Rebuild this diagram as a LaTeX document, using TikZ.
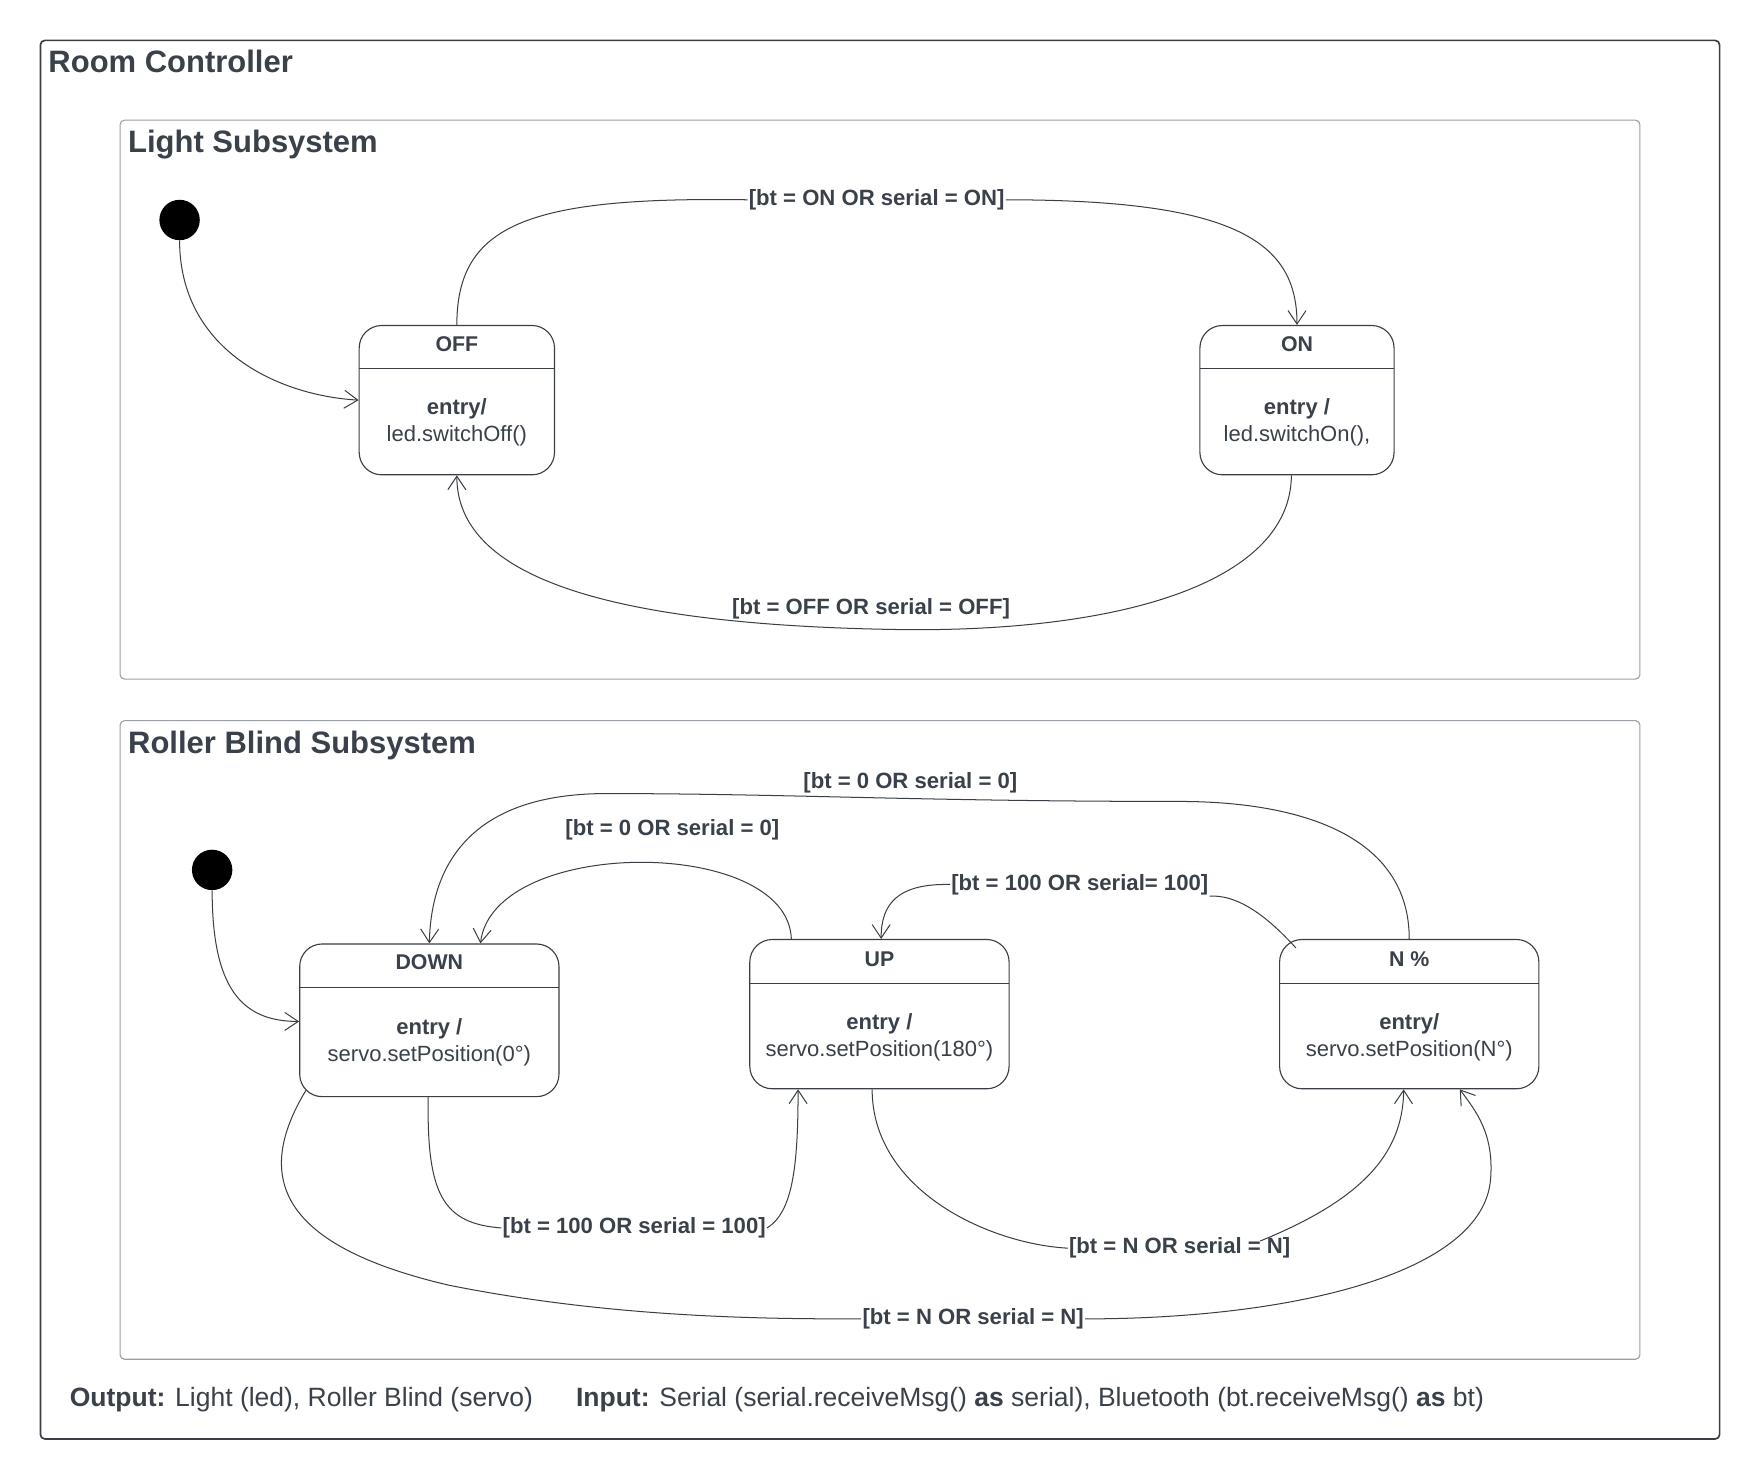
\documentclass[tikz,border=0pt]{standalone}
\usepackage{fontspec}
\setmainfont{Liberation Sans}
\usetikzlibrary{arrows.meta,calc}
\definecolor{txt}{HTML}{3A414A}
\definecolor{ln}{HTML}{3A3F45}
\definecolor{frm}{HTML}{9AA0A6}
\begin{document}
\begin{tikzpicture}[x=1pt,y=-1pt,
  statebox/.style={draw=ln, line width=1pt, rounded corners=20pt, fill=white, inner sep=0pt},
  conn/.style={draw=ln, line width=0.9pt, -{Straight Barb[length=12pt,width=16pt]}},
  seg/.style={draw=ln, line width=0.9pt},
  lbl/.style={font=\fontsize{19.7}{23}\selectfont\bfseries, text=txt, inner sep=1pt},
  stname/.style={font=\fontsize{19}{23}\selectfont\bfseries, text=txt, inner sep=0pt},
  body/.style={font=\fontsize{19.6}{24}\selectfont, text=txt, align=center, inner sep=0pt},
  ttl/.style={font=\fontsize{27.6}{32}\selectfont\bfseries, text=txt, anchor=base west, inner sep=0pt},
  foot/.style={font=\fontsize{23.6}{27}\selectfont, text=txt, anchor=base west, inner sep=0pt},
  initial/.style={circle, fill=black, minimum size=36pt, inner sep=0pt}]
\useasboundingbox (0,0) rectangle (1568,1318.55);
\fill[white] (0,0) rectangle (1568,1318.55);
% frames
\draw[ln, line width=1.5pt, rounded corners=4pt] (36,36) rectangle (1532,1282);
\draw[frm, line width=1pt, rounded corners=4pt] (107,107) rectangle (1461,605);
\draw[frm, line width=1pt, rounded corners=4pt] (107,642) rectangle (1461,1211);
\node[ttl] (tRoom) at (43,65) {Room Controller};
\node[ttl] (tLight) at (114,136) {Light Subsystem};
\node[ttl] (tRoller) at (114,671) {Roller Blind Subsystem};
% light states
\node[statebox, minimum width=174pt, minimum height=133pt] (off) at (407,356.5) {};
\draw[ln, line width=1pt] (320,328) -- (494,328);
\node[stname] (offT) at (407,306.5) {OFF};
\node[body] (offB) at (407,376) {\textbf{entry/}\\led.switchOff()};
\node[statebox, minimum width=173pt, minimum height=133pt] (on) at (1155.5,356.5) {};
\draw[ln, line width=1pt] (1069,328) -- (1242,328);
\node[stname] (onT) at (1155.5,306.5) {ON};
\node[body] (onB) at (1155.5,376) {\textbf{entry /}\\led.switchOn(),};
\node[initial] (i1) at (160,196) {};
% roller states
\node[statebox, minimum width=231pt, minimum height=136pt] (down) at (382.5,909) {};
\draw[ln, line width=1pt] (267,880) -- (498,880);
\node[stname] (downT) at (382.5,857.5) {DOWN};
\node[body] (downB) at (382.5,929) {\textbf{entry /}\\servo.setPosition(0°)};
\node[statebox, minimum width=231pt, minimum height=133pt] (up) at (783.5,903.5) {};
\draw[ln, line width=1pt] (668,876) -- (899,876);
\node[stname] (upT) at (783.5,854.5) {UP};
\node[body] (upB) at (783.5,924) {\textbf{entry /}\\servo.setPosition(180°)};
\node[statebox, minimum width=231pt, minimum height=133pt] (nn) at (1255.5,903.5) {};
\draw[ln, line width=1pt] (1140,876) -- (1371,876);
\node[stname] (nnT) at (1255.5,854.5) {N \%};
\node[body] (nnB) at (1255.5,924) {\textbf{entry/}\\servo.setPosition(N°)};
\node[initial] (i2) at (189,775) {};
% labels
\node[lbl] (lon) at (781,178) {[bt = ON OR serial = ON]};
\node[lbl] (loff) at (776,542) {[bt = OFF OR serial = OFF]};
\node[lbl] (l0a) at (599,739) {[bt = 0 OR serial = 0]};
\node[lbl] (l0b) at (811,697) {[bt = 0 OR serial = 0]};
\node[lbl] (l100a) at (962,788) {[bt = 100 OR serial= 100]};
\node[lbl] (l100b) at (565,1094) {[bt = 100 OR serial = 100]};
\node[lbl] (lNa) at (1051,1112) {[bt = N OR serial = N]};
\node[lbl] (lNb) at (867,1175) {[bt = N OR serial = N]};
% light connectors
\draw[conn] (i1.south) .. controls (160,310) and (245,352) .. (off.west);
\draw[seg] (off.north) .. controls (407,200) and (470,175) .. (lon.west);
\draw[conn] (lon.east) .. controls (1100,178) and (1155.5,215) .. (on.north);
\draw[conn] ($(on.south)+(-5,0)$) .. controls (1150,515) and (1010,562) .. (810,561) .. controls (560,558) and (407,520) .. (off.south);
% roller connectors
\draw[conn] (i2.south) .. controls (189,880) and (215,910) .. ($(down.west)+(0,1)$);
\draw[conn] ($(up.north)+(-78.5,0)$) .. controls (702,745) and (440,745) .. ($(down.north)+(45.5,0)$);
\draw[conn] (nn.north) .. controls (1255.5,745) and (1160,714) .. (1050,714) .. controls (820,714) and (700,707) .. (540,707) .. controls (420,707) and (384,770) .. (down.north);
\draw[seg] ($(nn.north west)+(15,8)$) .. controls (1125,812) and (1100,797) .. (l100a.south east);
\draw[conn] (l100a.west) .. controls (800,787) and (785,805) .. ($(up.north)+(1.5,0)$);
\draw[seg] ($(down.south)+(-1,0)$) .. controls (380,1065) and (395,1090) .. (l100b.west);
\draw[conn] (l100b.east) .. controls (706,1080) and (711,1040) .. ($(up.south)+(-72.5,0)$);
\draw[seg] ($(up.south)+(-6.5,0)$) .. controls (777,1060) and (880,1108) .. (lNa.west);
\draw[conn] ($(lNa.north east)+(-28,4)$) .. controls (1210,1070) and (1250,1030) .. ($(nn.south)+(-5,0)$);
\draw[seg] ($(down.south west)+(6,-6)$) .. controls (225,1050) and (250,1110) .. (400,1145) .. controls (550,1175) and (690,1175) .. (lNb.west);
\draw[conn] (lNb.east) .. controls (1150,1175) and (1322,1135) .. (1328,1050) .. controls (1331,1010) and (1315,990) .. ($(nn.south)+(45,0)$);
% footer
\node[foot] (outp) at (62,1253) {\textbf{Output:} Light (led), Roller Blind (servo)};
\node[foot] (inp) at (513,1253) {\textbf{Input:} Serial (serial.receiveMsg() \textbf{as} serial), Bluetooth (bt.receiveMsg() \textbf{as} bt)};
\end{tikzpicture}
\end{document}
